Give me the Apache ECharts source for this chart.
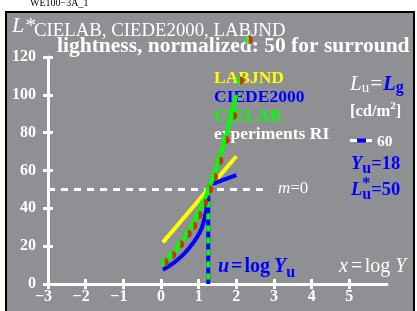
<!DOCTYPE html>
<html><head><meta charset="utf-8">
<script src="https://cdn.jsdelivr.net/npm/echarts@6/dist/echarts.min.js"></script>
<style>html,body{margin:0;padding:0;background:#fff}#c{width:417px;height:311px}</style>
</head><body><div id="c"></div>
<script>
// ---- data ----
const xTicks = [-3, -2, -1, 0, 1, 2, 3, 4, 5];
const xTickLabels = ['−3', '−2', '−1', '0', '1', '2', '3', '4', '5'];
const yTicks = [0, 20, 40, 60, 80, 100, 120];
const yTickLabels = ['0', '20', '40', '60', '80', '100', '120'];
const labjndX = [0.05, 2.0];
const labjndY = [22, 67.5];
const ciedeLowX = [0.05, 0.33, 0.59, 0.77, 0.95, 1.08, 1.17, 1.23, 1.255];
const ciedeLowY = [7.5, 11, 15.5, 19.5, 24.5, 29.5, 36, 43, 50];
const ciedeUpX = [1.255, 1.3, 1.45, 1.65, 2.0];
const ciedeUpY = [50, 52, 53.5, 55, 57.5];
const cielabX = [0.05, 0.2, 0.4, 0.6, 0.8, 1.0, 1.2, 1.4, 1.6, 1.8, 2.0];
const cielabY = [10, 13.1, 18, 23.6, 30.2, 37.8, 46.8, 57.2, 69.3, 83.5, 100];
const expX = [0.1, 0.3, 0.51, 0.71, 0.86, 1.0, 1.14, 1.28, 1.41, 1.55, 1.72, 1.92, 2.1, 2.33];
const expY = [11.5, 15.3, 21, 26.6, 30.8, 36.5, 43, 50, 56.5, 65.2, 76.2, 88.9, 107.6, 129];
const logYu = 1.255;
const surroundL = 50;
const surroundLineX = [-3, 2.85];

// ---- helpers ----
const FAM = '"Liberation Serif","Times New Roman",serif';
const mctx = document.createElement('canvas').getContext('2d');
function fontStr(p) { return (p.italic ? 'italic ' : 'normal ') + (p.bold ? 'bold ' : 'normal ') + p.size + 'px ' + FAM; }
function seq(x, base, pieces) {
  const out = []; let cx = x;
  pieces.forEach(p => {
    const f = fontStr(p);
    mctx.font = f;
    const w = mctx.measureText(p.t).width;
    cx += (p.gap || 0);
    out.push({
      type: 'text', x: cx, y: base + (p.dy || 0) - 0.34 * p.size, z: 5,
      style: { text: p.t, fill: p.color, font: f, align: 'left', verticalAlign: 'middle' }
    });
    if (!p.noAdvance) cx += w;
  });
  return out;
}
const W = '#ffffff', B = '#0000ff', Y = '#ffff00', G = '#00ff00';
const pair = (xs, ys) => xs.map((x, i) => [x, ys[i]]);

const graphics = [
  { type: 'rect', z: -5, shape: { x: 6, y: 12, width: 408, height: 310 }, style: { fill: '#8f9094', stroke: '#000', lineWidth: 2 } },
  ...seq(30, 7, [{ t: 'WE100−3A_1', size: 10, color: '#000' }]),
  ...seq(12, 33.5, [{ t: 'L*', size: 22, italic: true, color: W }]),
  ...seq(34, 37, [{ t: 'CIELAB, CIEDE2000, LABJND', size: 18.8, color: W }]),
  ...seq(57, 54, [{ t: 'lightness, normalized: 50 for surround', size: 21.5, bold: true, color: W }]),
  ...seq(214, 84, [{ t: 'LABJND', size: 17.5, bold: true, color: Y }]),
  ...seq(214, 103, [{ t: 'CIEDE2000', size: 17.5, bold: true, color: B }]),
  ...seq(214, 122, [{ t: 'CIELAB', size: 17.5, bold: true, color: G }]),
  ...seq(214, 140.5, [{ t: 'experiments RI', size: 17.5, bold: true, color: W }]),
  ...seq(350, 91.5, [
    { t: 'L', size: 21, italic: true, color: W },
    { t: 'u', size: 15, color: W, dy: 2 },
    { t: '=', size: 21, color: W, gap: 1 },
    { t: 'L', size: 21, italic: true, bold: true, color: B, gap: 1 },
    { t: 'g', size: 16, bold: true, color: B, dy: 2 }
  ]),
  ...seq(350, 117, [
    { t: '[cd/m', size: 16.5, bold: true, color: W },
    { t: '2', size: 11, bold: true, color: W, dy: -7 },
    { t: ']', size: 16.5, bold: true, color: W }
  ]),
  { type: 'line', z: 5, shape: { x1: 350, y1: 140.5, x2: 372, y2: 140.5 }, style: { stroke: W, lineWidth: 3 } },
  { type: 'line', z: 6, shape: { x1: 357, y1: 140.5, x2: 366, y2: 140.5 }, style: { stroke: B, lineWidth: 4 } },
  ...seq(377, 147.3, [{ t: '60', size: 15.5, bold: true, color: W }]),
  ...seq(351, 171, [
    { t: 'Y', size: 18.5, italic: true, bold: true, color: B },
    { t: 'u', size: 16, bold: true, color: B, dy: 3.5 },
    { t: '=18', size: 18.5, bold: true, color: B }
  ]),
  ...seq(351, 196.5, [
    { t: 'L', size: 18.5, italic: true, bold: true, color: B },
    { t: '*', size: 16, bold: true, color: B, dy: -7, noAdvance: true },
    { t: 'u', size: 16, bold: true, color: B, dy: 3.5 },
    { t: '=50', size: 18.5, bold: true, color: B }
  ]),
  ...seq(278, 194, [
    { t: 'm', size: 17, italic: true, color: W },
    { t: '=0', size: 17, color: W }
  ]),
  ...seq(218, 273.3, [
    { t: 'u', size: 20, italic: true, bold: true, color: B },
    { t: '=', size: 20, bold: true, color: B, gap: 2 },
    { t: 'log', size: 20, bold: true, color: B, gap: 2 },
    { t: 'Y', size: 20, italic: true, bold: true, color: B, gap: 4 },
    { t: 'u', size: 16, bold: true, color: B, dy: 5 }
  ]),
  ...seq(339, 273.3, [
    { t: 'x', size: 20, italic: true, color: W },
    { t: '=', size: 20, color: W, gap: 3 },
    { t: 'log', size: 20, color: W, gap: 2.5 },
    { t: 'Y', size: 20, italic: true, color: W, gap: 5 }
  ])
];

const chart = echarts.init(document.getElementById('c'), null, { renderer: 'canvas' });
const axisCommonX = {
  type: 'value', min: -3, max: 6, interval: 1, position: 'bottom',
  splitLine: { show: false }
};
const axisCommonY = {
  type: 'value', min: 0, max: 120, interval: 20, position: 'left',
  splitLine: { show: false }
};
const labelFont = { color: W, fontWeight: 'bold', fontSize: 16, fontFamily: FAM };
chart.setOption({
  animation: false,
  backgroundColor: '#ffffff',
  grid: { left: 48, right: 30, top: 57, bottom: 27, containLabel: false },
  graphic: graphics,
  xAxis: [
    Object.assign({}, axisCommonX, {
      axisLine: { show: true, onZero: false, lineStyle: { color: W, width: 3 } },
      axisTick: { show: true, inside: false, length: 5, customValues: xTicks, lineStyle: { color: W, width: 3 } },
      axisLabel: Object.assign({}, labelFont, {
        margin: 5, customValues: xTicks,
        formatter: v => { const i = xTicks.indexOf(Math.round(v)); if (i < 0) return ''; const s = xTickLabels[i]; return s.startsWith('−') ? '{n|' + s + '}' : '{p|' + s + '}'; },
        rich: { n: Object.assign({}, labelFont, { padding: [0, 9, 0, 0] }), p: Object.assign({}, labelFont) }
      })
    }),
    Object.assign({}, axisCommonX, {
      axisLine: { show: false, onZero: false },
      axisTick: { show: true, inside: true, length: 5, customValues: xTicks, lineStyle: { color: W, width: 3 } },
      axisLabel: { show: false }
    })
  ],
  yAxis: [
    Object.assign({}, axisCommonY, {
      axisLine: { show: true, onZero: false, lineStyle: { color: W, width: 3 } },
      axisTick: { show: true, inside: false, length: 5, lineStyle: { color: W, width: 3 } },
      axisLabel: Object.assign({}, labelFont, { margin: 12, formatter: v => yTickLabels[yTicks.indexOf(v)] })
    }),
    Object.assign({}, axisCommonY, {
      axisLine: { show: false, onZero: false },
      axisTick: { show: true, inside: true, length: 5, lineStyle: { color: W, width: 3 } },
      axisLabel: { show: false }
    })
  ],
  series: [
    { type: 'line', z: 2, data: surroundLineX.map(x => [x, surroundL]), symbol: 'none', lineStyle: { color: W, width: 3, type: [7, 6] } },
    { type: 'line', z: 3, data: pair(labjndX, labjndY), symbol: 'none', lineStyle: { color: Y, width: 4 } },
    { type: 'line', z: 4, data: pair(ciedeLowX, ciedeLowY), symbol: 'none', smooth: 0.4, lineStyle: { color: B, width: 4 } },
    { type: 'line', z: 4, data: pair(ciedeUpX, ciedeUpY), symbol: 'none', smooth: 0.4, lineStyle: { color: B, width: 4 } },
    { type: 'line', z: 5, data: [[logYu, surroundL], [logYu, 0]], symbol: 'none', lineStyle: { color: B, width: 4 } },
    { type: 'line', z: 6, data: [[logYu, surroundL], [logYu, 0]], symbol: 'none', lineStyle: { color: G, width: 4, type: [6, 6] } },
    { type: 'line', z: 7, data: pair(cielabX, cielabY), symbol: 'none', smooth: 0.3, lineStyle: { color: G, width: 4 } },
    { type: 'scatter', z: 8, clip: false, data: pair(expX, expY), symbol: 'circle', symbolSize: 8, itemStyle: { color: G } },
    { type: 'scatter', z: 9, clip: false, data: pair(expX, expY), symbol: 'path://M0,0 A10,10 0 0 1 0,20 Z', symbolSize: [4, 8], symbolOffset: [2, 0], itemStyle: { color: '#ff0000' } }
  ]
});
</script>
</body></html>
